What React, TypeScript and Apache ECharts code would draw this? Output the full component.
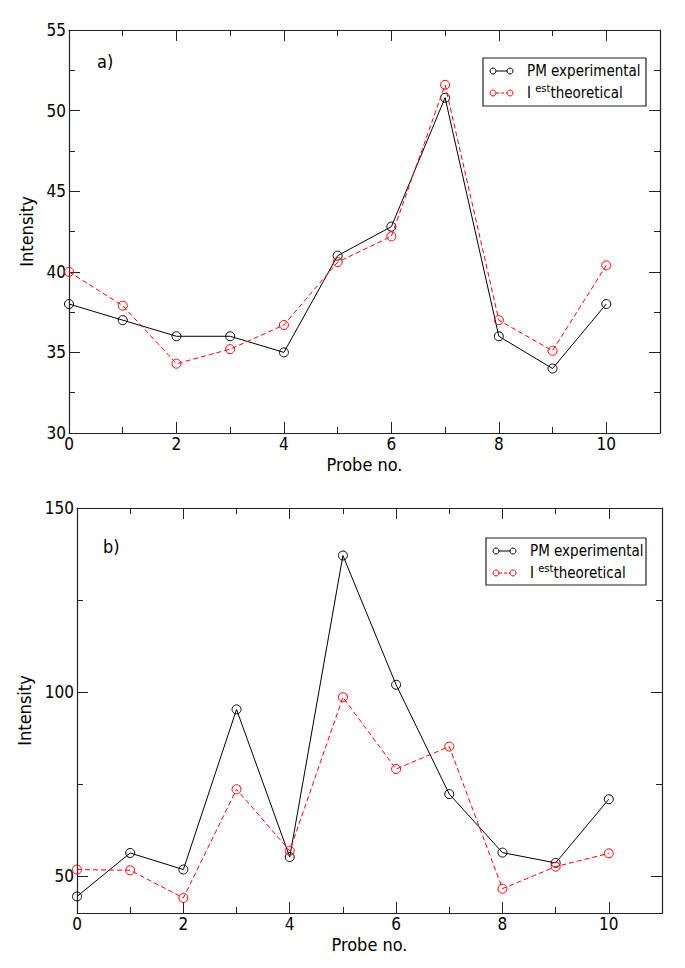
import React, { useEffect, useRef } from "react";
import * as echarts from "echarts";

const PROBES = [0, 1, 2, 3, 4, 5, 6, 7, 8, 9, 10];
const A_EXPERIMENTAL = [38.0, 37.0, 36.0, 36.0, 35.0, 41.0, 42.8, 50.8, 36.0, 34.0, 38.0];
const A_THEORETICAL = [40.0, 37.9, 34.3, 35.2, 36.7, 40.6, 42.2, 51.6, 37.0, 35.1, 40.4];
const B_EXPERIMENTAL = [44.5, 56.3, 51.8, 95.3, 55.2, 137.1, 102.0, 72.3, 56.4, 53.6, 70.9];
const B_THEORETICAL = [51.8, 51.6, 44.1, 73.6, 56.9, 98.6, 79.1, 85.2, 46.6, 52.6, 56.2];

const X_MAJOR = [0, 2, 4, 6, 8, 10];
const X_MINOR = [1, 3, 5, 7, 9];
const A_Y_MAJOR = [30, 35, 40, 45, 50, 55];
const A_Y_MINOR = [32.5, 37.5, 42.5, 47.5, 52.5];
const B_Y_MAJOR = [50, 100, 150];
const B_Y_MINOR = [75, 125];

const FONT = "'DejaVu Sans Condensed', 'Liberation Sans Narrow', 'DejaVu Sans', sans-serif";
const NAME_EXP = "PM experimental";
const NAME_THEO = "theoretical";
const AXIS_COLOR = "#222";

function xAxes(grid: number, nameGap: number) {
  const base = {
    type: "value",
    gridIndex: grid,
    min: 0,
    max: 11,
    splitLine: { show: false },
  };
  return [
    {
      ...base,
      position: "bottom",
      name: "Probe no.",
      nameLocation: "middle",
      nameGap,
      nameTextStyle: { fontFamily: FONT, fontSize: 18, color: "#000" },
      axisLine: { show: true, onZero: false, lineStyle: { color: AXIS_COLOR, width: 1.2 } },
      axisTick: { show: true, inside: true, length: 11, customValues: X_MAJOR, lineStyle: { color: AXIS_COLOR } },
      axisLabel: { show: true, customValues: X_MAJOR, margin: 2, fontFamily: FONT, fontSize: 17, color: "#000" },
    },
    {
      ...base,
      position: "bottom",
      axisLine: { show: false, onZero: false },
      axisTick: { show: true, inside: true, length: 6, customValues: X_MINOR, lineStyle: { color: AXIS_COLOR } },
      axisLabel: { show: false },
    },
    {
      ...base,
      position: "top",
      axisLine: { show: true, onZero: false, lineStyle: { color: AXIS_COLOR, width: 1.2 } },
      axisTick: { show: true, inside: true, length: 11, customValues: X_MAJOR, lineStyle: { color: AXIS_COLOR } },
      axisLabel: { show: false },
    },
    {
      ...base,
      position: "top",
      axisLine: { show: false, onZero: false },
      axisTick: { show: true, inside: true, length: 6, customValues: X_MINOR, lineStyle: { color: AXIS_COLOR } },
      axisLabel: { show: false },
    },
  ];
}

function yAxes(grid: number, min: number, max: number, major: number[], minor: number[], nameGap: number) {
  const base = {
    type: "value",
    gridIndex: grid,
    min,
    max,
    splitLine: { show: false },
  };
  return [
    {
      ...base,
      position: "left",
      name: "Intensity",
      nameLocation: "middle",
      nameGap,
      nameTextStyle: { fontFamily: FONT, fontSize: 18, color: "#000" },
      axisLine: { show: true, onZero: false, lineStyle: { color: AXIS_COLOR, width: 1.2 } },
      axisTick: { show: true, inside: true, length: 11, customValues: major, lineStyle: { color: AXIS_COLOR } },
      axisLabel: { show: true, customValues: major, margin: 3, fontFamily: FONT, fontSize: 17, color: "#000" },
    },
    {
      ...base,
      position: "left",
      axisLine: { show: false, onZero: false },
      axisTick: { show: true, inside: true, length: 6, customValues: minor, lineStyle: { color: AXIS_COLOR } },
      axisLabel: { show: false },
    },
    {
      ...base,
      position: "right",
      axisLine: { show: true, onZero: false, lineStyle: { color: AXIS_COLOR, width: 1.2 } },
      axisTick: { show: true, inside: true, length: 11, customValues: major, lineStyle: { color: AXIS_COLOR } },
      axisLabel: { show: false },
    },
    {
      ...base,
      position: "right",
      axisLine: { show: false, onZero: false },
      axisTick: { show: true, inside: true, length: 6, customValues: minor, lineStyle: { color: AXIS_COLOR } },
      axisLabel: { show: false },
    },
  ];
}

function lineSeries(name: string, values: number[], axisIdx: number, color: string, dashed: boolean) {
  return {
    type: "line",
    name,
    xAxisIndex: axisIdx,
    yAxisIndex: axisIdx,
    data: PROBES.map((p, i) => [p, values[i]]),
    symbol: "circle",
    symbolSize: 9,
    showSymbol: true,
    itemStyle: { color: "rgba(255,255,255,0)", borderColor: color, borderWidth: 1 },
    lineStyle: { color, width: 1, type: dashed ? [5, 3] : "solid" },
    emphasis: { disabled: true },
    z: dashed ? 3 : 2,
  };
}

function legendGraphic(x: number, y: number, w: number, h: number, row1: number, row2: number) {
  const cx1 = x + 10;
  const cx2 = x + 27;
  const tx = x + 44;
  return [
    { type: "rect", shape: { x, y, width: w, height: h }, style: { fill: "#fff", stroke: "#222", lineWidth: 1.2 }, z: 10 },
    { type: "line", shape: { x1: cx1 + 3, y1: row1, x2: cx2 - 3, y2: row1 }, style: { stroke: "#000", lineWidth: 1 }, z: 11 },
    { type: "circle", shape: { cx: cx1, cy: row1, r: 3 }, style: { fill: "none", stroke: "#000", lineWidth: 1 }, z: 11 },
    { type: "circle", shape: { cx: cx2, cy: row1, r: 3 }, style: { fill: "none", stroke: "#000", lineWidth: 1 }, z: 11 },
    {
      type: "text", x: tx, y: row1, z: 11,
      style: { text: NAME_EXP, fontFamily: FONT, fontSize: 15, fill: "#000", verticalAlign: "middle", align: "left" },
    },
    { type: "line", shape: { x1: cx1 + 3, y1: row2, x2: cx2 - 3, y2: row2 }, style: { stroke: "#ff0000", lineWidth: 1, lineDash: [3, 2] }, z: 11 },
    { type: "circle", shape: { cx: cx1, cy: row2, r: 3 }, style: { fill: "none", stroke: "#ff0000", lineWidth: 1 }, z: 11 },
    { type: "circle", shape: { cx: cx2, cy: row2, r: 3 }, style: { fill: "none", stroke: "#ff0000", lineWidth: 1 }, z: 11 },
    {
      type: "text", x: tx, y: row2, z: 11,
      style: {
        text: "I {sup|est}" + NAME_THEO,
        fontFamily: FONT, fontSize: 15, fill: "#000", verticalAlign: "middle", align: "left",
        rich: {
          sup: { fontFamily: FONT, fontSize: 11, fill: "#000", verticalAlign: "top", padding: [0, 0, 10, 0] },
        },
      },
    },
  ];
}

export default function App() {
  const ref = useRef<HTMLDivElement>(null);
  useEffect(() => {
    if (!ref.current) return;
    const chart = echarts.init(ref.current, undefined, { renderer: "svg" });
    const option = {
      animation: false,
      backgroundColor: "#fff",
      grid: [
        { left: 69, right: 25, top: 30, height: 403 },
        { left: 77, right: 23, top: 508, height: 405 },
      ],
      xAxis: [...xAxes(0, 22), ...xAxes(1, 22)],
      yAxis: [
        ...yAxes(0, 30, 55, A_Y_MAJOR, A_Y_MINOR, 28),
        ...yAxes(1, 40, 150, B_Y_MAJOR, B_Y_MINOR, 36),
      ],
      series: [
        lineSeries(NAME_EXP, A_EXPERIMENTAL, 0, "#000", false),
        lineSeries("I est " + NAME_THEO, A_THEORETICAL, 0, "#ff0000", true),
        lineSeries(NAME_EXP, B_EXPERIMENTAL, 4, "#000", false),
        lineSeries("I est " + NAME_THEO, B_THEORETICAL, 4, "#ff0000", true),
      ],
      graphic: [
        { type: "text", x: 97, y: 61, style: { text: "a)", fontFamily: FONT, fontSize: 18, fill: "#000", verticalAlign: "middle" } },
        { type: "text", x: 103, y: 546, style: { text: "b)", fontFamily: FONT, fontSize: 18, fill: "#000", verticalAlign: "middle" } },
        ...legendGraphic(483, 58, 163, 48, 71, 93),
        ...legendGraphic(486, 538, 160, 47, 551, 573),
      ],
    };
    chart.setOption(option as any);
    return () => chart.dispose();
  }, []);
  return (
    <div
      ref={ref}
      style={{ position: "absolute", left: 0, top: 0, width: 685, height: 968, background: "#fff" }}
    />
  );
}
